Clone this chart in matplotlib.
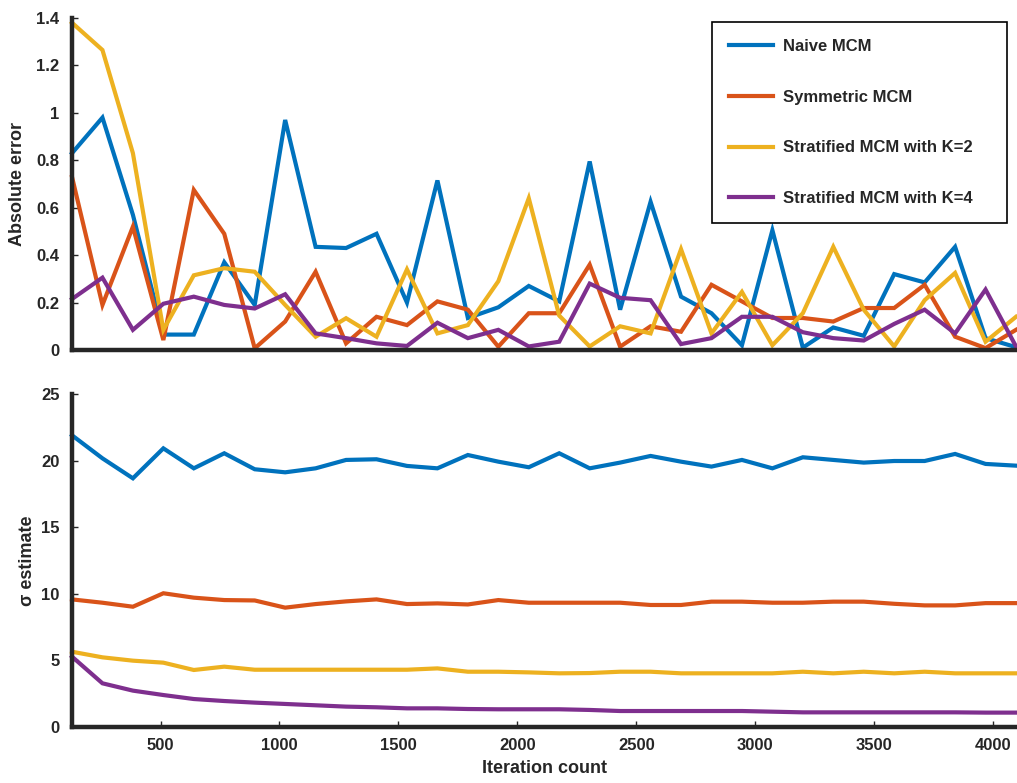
import matplotlib
matplotlib.use("Agg")
import matplotlib.pyplot as plt
from matplotlib.ticker import FuncFormatter

plt.rcParams['font.family'] = ['Liberation Sans', 'DejaVu Sans']
plt.rcParams['font.weight'] = 'bold'
plt.rcParams['axes.labelweight'] = 'bold'

iterations = [128 * k for k in range(1, 33)]

labels = ["Naive MCM", "Symmetric MCM", "Stratified MCM with K=2", "Stratified MCM with K=4"]
colors = ["#0072BD", "#D95319", "#EDB120", "#7E2F8E"]

err_naive = [0.83, 0.98, 0.57, 0.065, 0.065, 0.37, 0.19, 0.97, 0.435, 0.43, 0.49, 0.2,
             0.715, 0.135, 0.18, 0.27, 0.205, 0.795, 0.17, 0.625, 0.225, 0.155, 0.02, 0.505,
             0.01, 0.095, 0.06, 0.32, 0.285, 0.435, 0.05, 0.012]
err_sym = [0.73, 0.19, 0.52, 0.042, 0.675, 0.49, 0.007, 0.12, 0.33, 0.028, 0.14, 0.105,
           0.205, 0.17, 0.014, 0.155, 0.155, 0.36, 0.014, 0.1, 0.077, 0.275, 0.205, 0.135,
           0.135, 0.12, 0.177, 0.177, 0.275, 0.056, 0.008, 0.085]
err_k2 = [1.38, 1.265, 0.83, 0.085, 0.315, 0.345, 0.33, 0.19, 0.056, 0.134, 0.056, 0.34,
          0.07, 0.105, 0.29, 0.64, 0.145, 0.015, 0.1, 0.07, 0.425, 0.07, 0.245, 0.02,
          0.155, 0.435, 0.17, 0.015, 0.21, 0.325, 0.035, 0.14]
err_k4 = [0.215, 0.305, 0.085, 0.195, 0.225, 0.19, 0.175, 0.235, 0.07, 0.05, 0.028, 0.017,
          0.115, 0.05, 0.085, 0.015, 0.035, 0.28, 0.22, 0.21, 0.025, 0.05, 0.14, 0.14,
          0.075, 0.05, 0.04, 0.11, 0.17, 0.07, 0.255, 0.015]

sig_naive = [21.9, 20.17, 18.67, 20.92, 19.42, 20.55, 19.35, 19.12, 19.42, 20.05, 20.1, 19.6,
             19.42, 20.42, 19.92, 19.5, 20.55, 19.42, 19.85, 20.35, 19.92, 19.55, 20.05, 19.42,
             20.25, 20.05, 19.85, 19.97, 19.97, 20.5, 19.75, 19.62]
sig_sym = [9.58, 9.33, 9.03, 10.04, 9.71, 9.53, 9.5, 8.96, 9.23, 9.43, 9.58, 9.23,
           9.28, 9.2, 9.53, 9.33, 9.33, 9.33, 9.33, 9.16, 9.16, 9.41, 9.41, 9.33,
           9.33, 9.41, 9.41, 9.25, 9.13, 9.13, 9.3, 9.3]
sig_k2 = [5.65, 5.23, 4.98, 4.83, 4.28, 4.53, 4.3, 4.3, 4.3, 4.3, 4.3, 4.3,
          4.4, 4.15, 4.15, 4.1, 4.03, 4.05, 4.15, 4.15, 4.03, 4.03, 4.03, 4.03,
          4.15, 4.03, 4.15, 4.03, 4.15, 4.03, 4.03, 4.03]
sig_k4 = [5.28, 3.28, 2.73, 2.4, 2.1, 1.95, 1.83, 1.73, 1.63, 1.53, 1.48, 1.4,
          1.4, 1.35, 1.33, 1.33, 1.33, 1.28, 1.2, 1.2, 1.2, 1.2, 1.2, 1.15,
          1.1, 1.1, 1.1, 1.1, 1.1, 1.1, 1.08, 1.08]

err_series = [err_naive, err_sym, err_k2, err_k4]
sig_series = [sig_naive, sig_sym, sig_k2, sig_k4]

err_yticks = [0, 0.2, 0.4, 0.6, 0.8, 1.0, 1.2, 1.4]
sig_yticks = [0, 5, 10, 15, 20, 25]
x_ticks = [500, 1000, 1500, 2000, 2500, 3000, 3500, 4000]

W, H = 1017, 783
fig = plt.figure(figsize=(W / 100, H / 100), dpi=100)
ax_w = (1016 - 72) / W
ax1 = fig.add_axes([72 / W, 1 - 350 / H, ax_w, (350 - 18) / H])
ax2 = fig.add_axes([72 / W, 1 - 727 / H, ax_w, (727 - 394) / H])

dark = "#262626"
fmt = FuncFormatter(lambda v, p: "%g" % v)

for ax in (ax1, ax2):
    for s in ("top", "right"):
        ax.spines[s].set_visible(False)
    for s in ("left", "bottom"):
        ax.spines[s].set_linewidth(3.2)
        ax.spines[s].set_color(dark)
    ax.tick_params(direction="in", length=4, width=1, colors=dark, labelsize=12)
    ax.tick_params(axis="y", pad=9)
    ax.tick_params(axis="x", pad=8)
    ax.set_xlim(128, 4096)

for ys, c, lab in zip(err_series, colors, labels):
    ax1.plot(iterations, ys, color=c, lw=3, label=lab, clip_on=False, solid_joinstyle="miter")
ax1.set_ylim(0, 1.4)
ax1.set_yticks(err_yticks)
ax1.yaxis.set_major_formatter(fmt)
ax1.set_xticks([])
ax1.set_ylabel("Absolute error", fontsize=13, color=dark)
ax1.yaxis.set_label_coords((26 - 72) / (ax_w * W), 0.5)

for ys, c in zip(sig_series, colors):
    ax2.plot(iterations, ys, color=c, lw=3, clip_on=False, solid_joinstyle="miter")
ax2.set_ylim(0, 25)
ax2.set_yticks(sig_yticks)
ax2.set_xticks(x_ticks)
ax2.yaxis.set_major_formatter(fmt)
ax2.set_ylabel("σ estimate", fontsize=13, color=dark)
ax2.yaxis.set_label_coords((36 - 72) / (ax_w * W), 0.5)
ax2.set_xlabel("Iteration count", fontsize=13, color=dark, labelpad=5)

leg = ax1.legend(loc="upper left", bbox_to_anchor=(712 / W, 1 - 222 / H, (1007 - 712) / W, 200 / H),
                 bbox_transform=fig.transFigure, mode="expand", borderaxespad=0,
                 fontsize=12, labelspacing=2.14, handlelength=2.65, handletextpad=0.6,
                 borderpad=1.02, fancybox=False, framealpha=1, edgecolor="black")
leg.get_frame().set_linewidth(1.2)
for t in leg.get_texts():
    t.set_color(dark)

fig.savefig("out.png", dpi=100)
